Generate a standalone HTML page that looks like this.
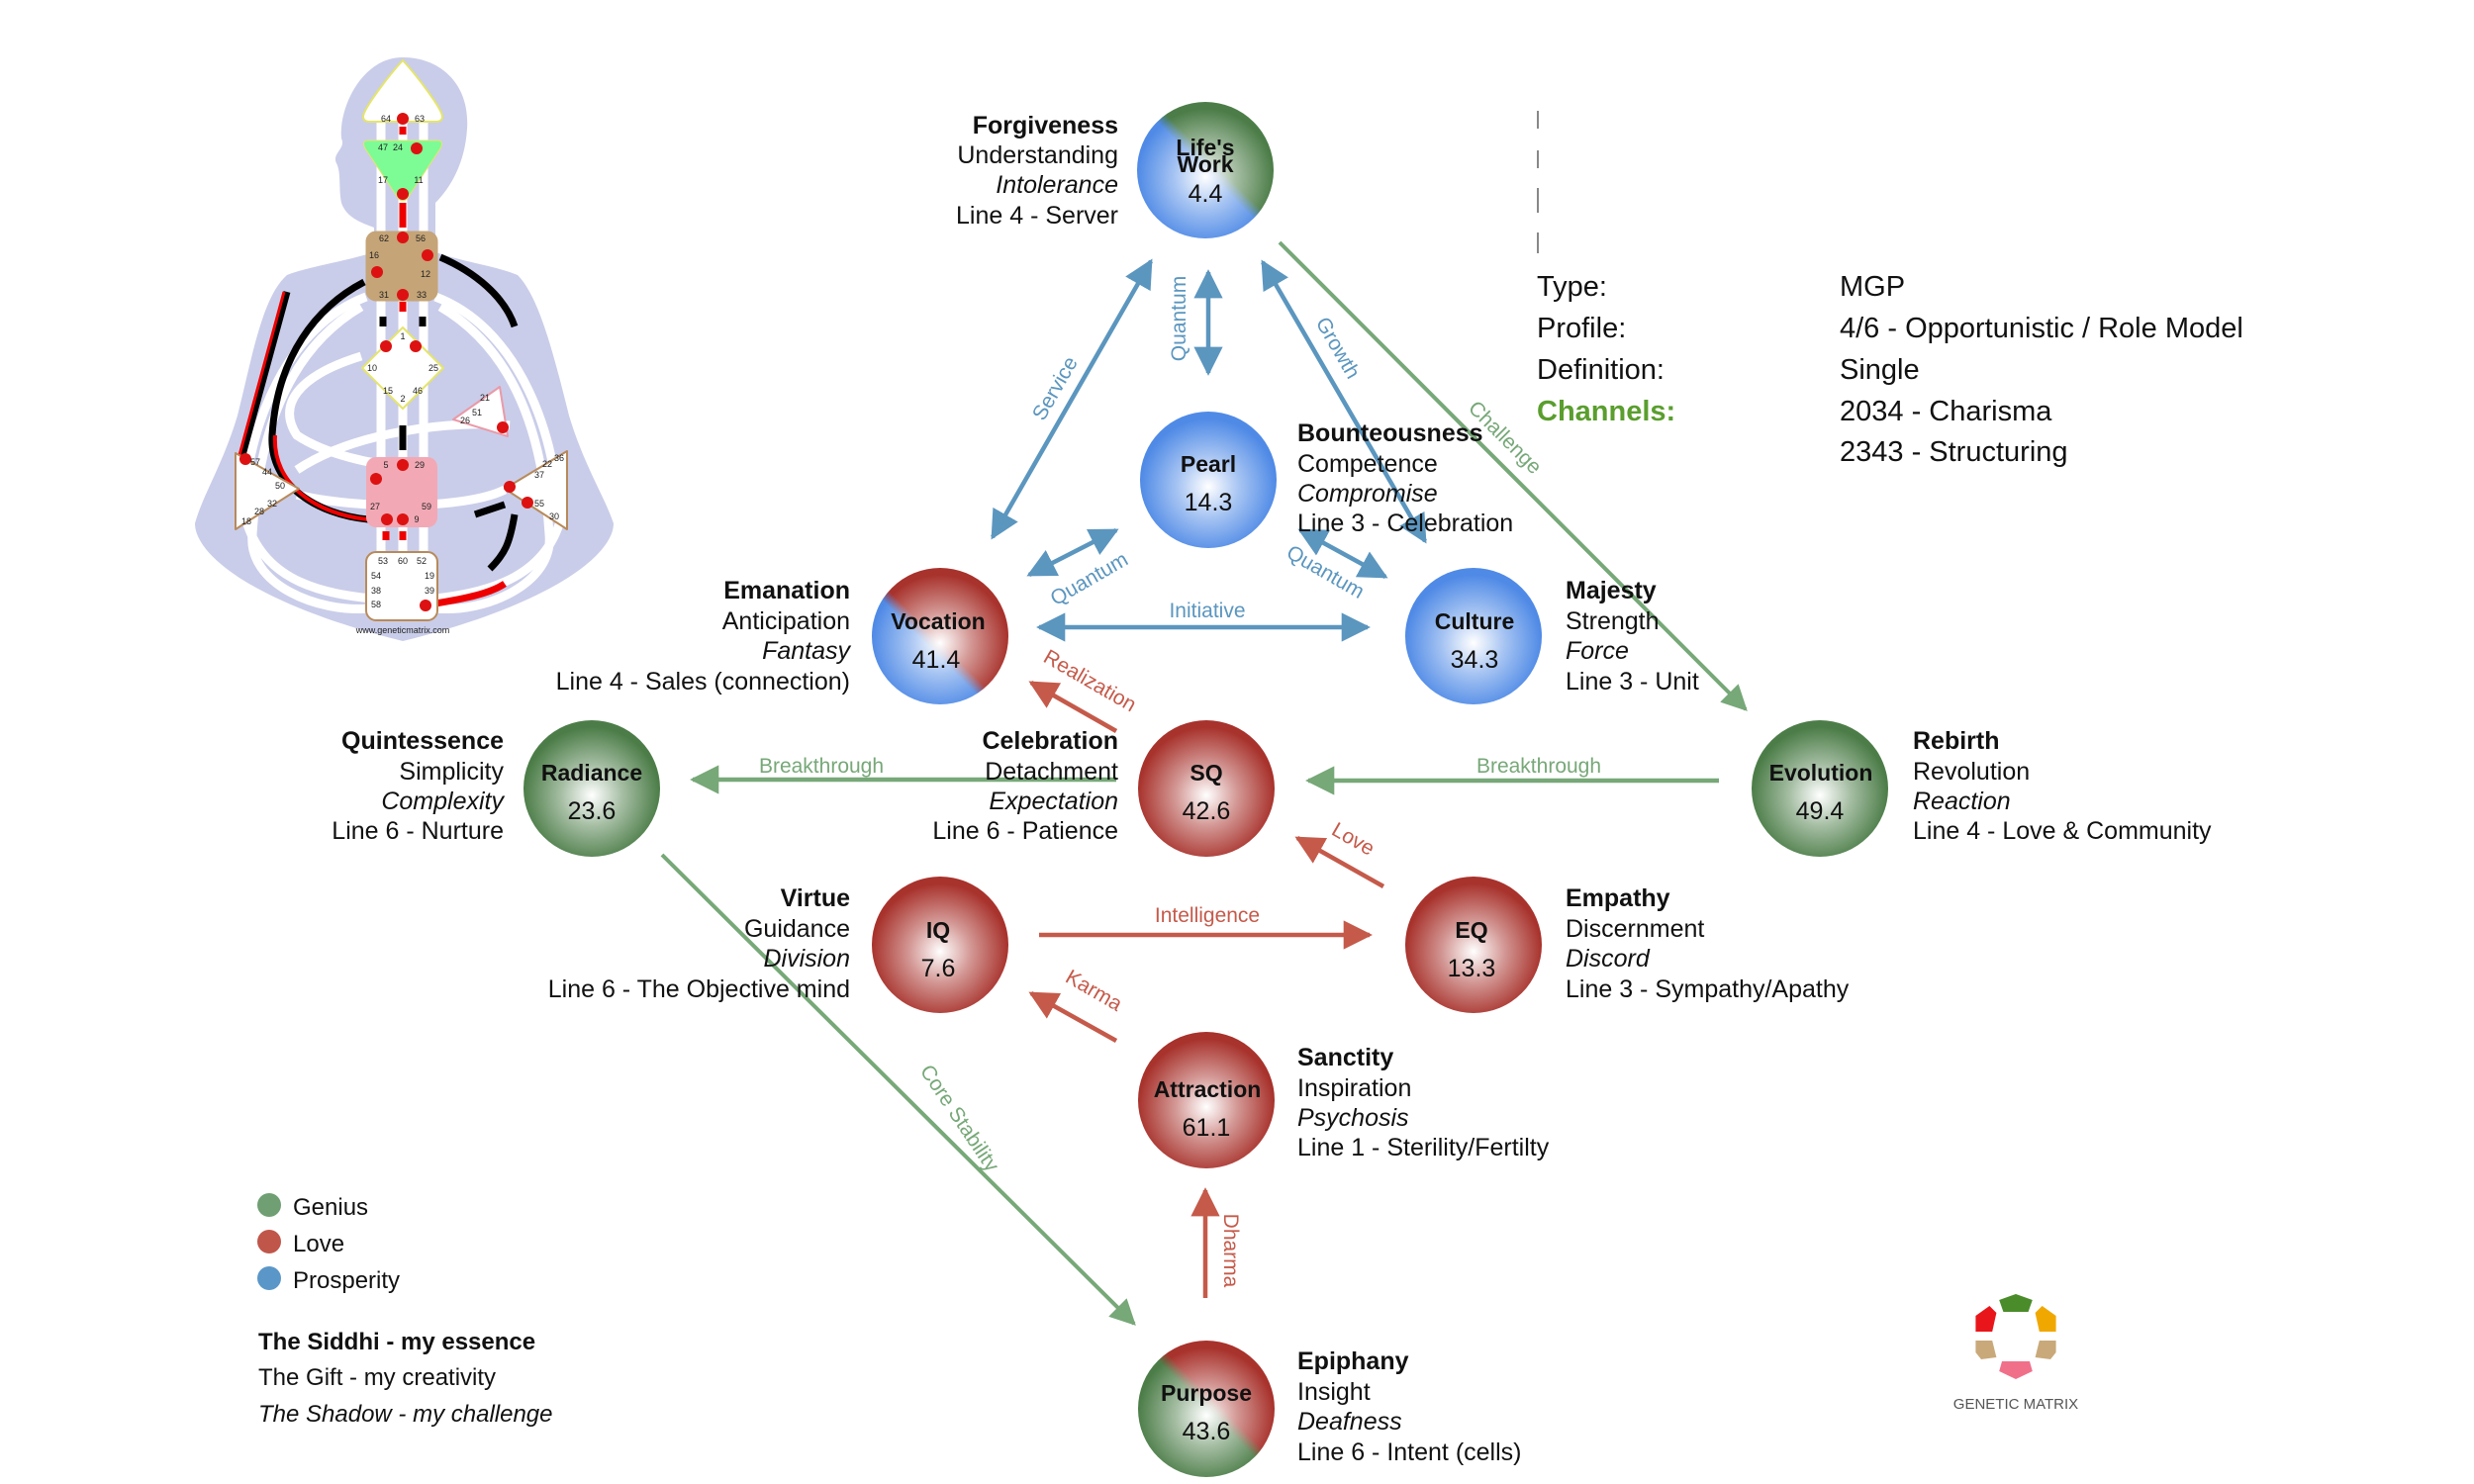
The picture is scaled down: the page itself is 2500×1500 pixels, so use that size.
<!DOCTYPE html>
<html><head><meta charset="utf-8"><style>
html,body{margin:0;padding:0;background:#fff;}
svg{display:block;font-family:"Liberation Sans",Arial,sans-serif;}
.t{font-size:25px;fill:#111;}
.b{font-weight:bold;}
.i{font-style:italic;}
.cl{font-size:23px;font-weight:bold;fill:#111;text-anchor:middle;}
.cn{font-size:25px;fill:#111;text-anchor:middle;}
.lb{font-size:21px;fill:#5b96bf;}
.lr{font-size:21px;fill:#c55a4a;}
.lg{font-size:21px;fill:#77a878;}
.info{font-size:29px;fill:#111;}
.gn{font-size:9px;fill:#222;text-anchor:middle;}
</style></head><body>
<svg width="2500" height="1500" viewBox="0 0 2500 1500" xmlns="http://www.w3.org/2000/svg">
<defs>
<radialGradient id="hl" cx="50%" cy="55%" r="50%">
<stop offset="0" stop-color="#fff" stop-opacity="1"/>
<stop offset="0.45" stop-color="#fff" stop-opacity="0.5"/>
<stop offset="1" stop-color="#fff" stop-opacity="0"/>
</radialGradient>
<linearGradient id="gLW" x1="0" y1="1" x2="1" y2="0"><stop offset="0.5" stop-color="#4f8ae6"/><stop offset="0.56" stop-color="#4c7d48"/></linearGradient>
<linearGradient id="gVO" x1="0" y1="1" x2="1" y2="0"><stop offset="0.42" stop-color="#4f8ae6"/><stop offset="0.48" stop-color="#a8322c"/></linearGradient>
<linearGradient id="gPU" x1="0" y1="1" x2="1" y2="0"><stop offset="0.5" stop-color="#4c7d48"/><stop offset="0.56" stop-color="#a8322c"/></linearGradient>
<marker id="ab" viewBox="0 0 10 10" refX="9" refY="5" markerWidth="6.5" markerHeight="6.5" orient="auto-start-reverse" markerUnits="strokeWidth"><path d="M0,0 L10,5 L0,10 z" fill="#5b96bf"/></marker>
<marker id="ar" viewBox="0 0 10 10" refX="9" refY="5" markerWidth="6.5" markerHeight="6.5" orient="auto-start-reverse" markerUnits="strokeWidth"><path d="M0,0 L10,5 L0,10 z" fill="#c55a4a"/></marker>
<marker id="ag" viewBox="0 0 10 10" refX="9" refY="5" markerWidth="6.5" markerHeight="6.5" orient="auto-start-reverse" markerUnits="strokeWidth"><path d="M0,0 L10,5 L0,10 z" fill="#77a878"/></marker>
</defs>

<!-- Bodygraph -->
<g>
<path d="M407,58 C445,58 475,85 472,130 C470,165 455,190 440,205 L440,255 C470,265 505,270 523,278 C545,300 560,360 575,420 C590,470 610,500 620,529 C620,560 560,610 407,648 C255,610 197,560 197,529 C205,500 225,470 240,420 C255,360 265,300 290,278 C310,270 345,265 378,255 L378,230 C365,225 350,220 345,205 C342,190 345,175 340,165 C335,155 350,150 345,140 C342,110 365,58 407,58 Z" fill="#c9cde9"/>
<g fill="none" stroke="#fff" stroke-width="9">
<path d="M370,300 C290,330 250,430 245,520"/>
<path d="M440,300 C520,330 560,430 565,520"/>
<path d="M365,310 C280,360 260,460 255,540 C250,590 320,620 375,615"/>
<path d="M445,310 C530,360 550,460 555,540 C560,590 490,620 440,615"/>
<path d="M365,360 C300,380 280,410 300,440 C330,460 380,470 400,470"/>
<path d="M300,475 C360,435 460,425 515,430"/>
<path d="M300,500 C360,515 470,515 510,495"/>
<path d="M250,530 C270,590 330,600 375,605"/>
<path d="M565,530 C545,590 480,600 440,605"/>
<line x1="385" y1="120" x2="385" y2="560"/>
<line x1="407" y1="120" x2="407" y2="560"/>
<line x1="428" y1="120" x2="428" y2="560"/>
</g>
<g fill="none" stroke-width="7">
<path d="M368,285 C320,310 280,360 275,440 C272,490 320,520 372,525" stroke="#000"/>
<path d="M278,440 C275,490 320,520 372,525" stroke="#e00" stroke-width="4"/>
<path d="M445,260 C480,275 510,300 520,330" stroke="#000"/>
<path d="M290,295 L245,460" stroke="#000"/>
<path d="M287,295 L242,460" stroke="#e00" stroke-width="3"/>
<path d="M480,520 L510,510" stroke="#000"/>
<path d="M520,520 C515,550 510,560 495,575" stroke="#000"/>
<path d="M440,610 C470,605 495,600 510,590" stroke="#e00"/>
<line x1="407" y1="128" x2="407" y2="136" stroke="#e00"/>
<line x1="407" y1="205" x2="407" y2="230" stroke="#e00"/>
<line x1="407" y1="305" x2="407" y2="315" stroke="#e00"/>
<line x1="387" y1="320" x2="387" y2="330" stroke="#000"/>
<line x1="427" y1="320" x2="427" y2="330" stroke="#000"/>
<line x1="407" y1="430" x2="407" y2="455" stroke="#000"/>
<line x1="390" y1="537" x2="390" y2="546" stroke="#e00"/>
<line x1="407" y1="537" x2="407" y2="546" stroke="#e00"/>
</g>
<path d="M407,61 C420,75 447,110 447,118 Q447,123 440,123 L374,123 Q367,123 367,118 C367,110 394,75 407,61 Z" fill="#fff" stroke="#e5e56a" stroke-width="2"/>
<path d="M372,142 L442,142 Q449,142 445,150 L412,200 Q407,206 402,200 L369,150 Q365,142 372,142 Z" fill="#7dfb95" stroke="#e5e56a" stroke-width="1"/>
<rect x="370" y="234" width="72" height="70" rx="10" fill="#c5a477" stroke="#c5a477"/>
<path d="M407,331 L448,372 L407,413 L366,372 Z" fill="#fff" stroke="#e5e56a" stroke-width="2" stroke-linejoin="round"/>
<path d="M458,424 L505,391 L513,441 Z" fill="#fff" stroke="#e99aa8" stroke-width="2" stroke-linejoin="round"/>
<rect x="370" y="462" width="72" height="71" rx="10" fill="#f2a9b5"/>
<path d="M238,458 L302,494 L238,535 Z" fill="#fff" stroke="#b88a5a" stroke-width="2" stroke-linejoin="round"/>
<path d="M573,456 L510,494 L573,535 Z" fill="#fff" stroke="#b88a5a" stroke-width="2" stroke-linejoin="round"/>
<rect x="370" y="558" width="72" height="69" rx="10" fill="#fff" stroke="#b88a5a" stroke-width="2"/>
<g fill="#d11">
<circle cx="407" cy="120" r="6"/><circle cx="421" cy="150" r="6"/><circle cx="407" cy="196" r="6"/>
<circle cx="407" cy="240" r="6"/><circle cx="432" cy="258" r="6"/><circle cx="381" cy="275" r="6"/><circle cx="407" cy="298" r="6"/>
<circle cx="390" cy="350" r="6"/><circle cx="420" cy="350" r="6"/><circle cx="508" cy="432" r="6"/>
<circle cx="407" cy="470" r="6"/><circle cx="380" cy="484" r="6"/><circle cx="391" cy="525" r="6"/><circle cx="407" cy="525" r="6"/>
<circle cx="248" cy="464" r="6"/><circle cx="515" cy="492" r="6"/><circle cx="533" cy="508" r="6"/><circle cx="430" cy="612" r="6"/>
</g>
<g class="gn" font-size="8">
<text x="390" y="123">64</text><text x="424" y="123">63</text>
<text x="387" y="152">47</text><text x="402" y="152">24</text>
<text x="387" y="185">17</text><text x="423" y="185">11</text>
<text x="388" y="244">62</text><text x="425" y="244">56</text>
<text x="378" y="261">16</text><text x="430" y="280">12</text>
<text x="388" y="301">31</text><text x="426" y="301">33</text>
<text x="407" y="343">1</text><text x="376" y="375">10</text><text x="438" y="375">25</text>
<text x="392" y="398">15</text><text x="422" y="398">46</text><text x="407" y="406">2</text>
<text x="482" y="420">51</text><text x="470" y="428">26</text><text x="490" y="405">21</text>
<text x="390" y="473">5</text><text x="424" y="473">29</text>
<text x="379" y="515">27</text><text x="431" y="515">59</text><text x="421" y="528">9</text>
<text x="258" y="470">57</text><text x="270" y="480">44</text><text x="283" y="494">50</text>
<text x="262" y="520">28</text><text x="275" y="512">32</text><text x="249" y="530">18</text>
<text x="553" y="472">22</text><text x="565" y="466">36</text><text x="545" y="483">37</text>
<text x="545" y="512">55</text><text x="560" y="525">30</text>
<text x="387" y="570">53</text><text x="407" y="570">60</text><text x="426" y="570">52</text>
<text x="380" y="585">54</text><text x="434" y="585">19</text>
<text x="380" y="600">38</text><text x="434" y="600">39</text><text x="380" y="614">58</text>
</g>
<text x="407" y="640" class="gn" font-size="7">www.geneticmatrix.com</text>
</g>

<!-- Connectors -->
<g stroke-width="4.5" fill="none">
<line x1="1163" y1="264" x2="1003" y2="543" stroke="#5b96bf" marker-start="url(#ab)" marker-end="url(#ab)"/>
<line x1="1221" y1="275" x2="1221" y2="377" stroke="#5b96bf" marker-start="url(#ab)" marker-end="url(#ab)"/>
<line x1="1276" y1="265" x2="1440" y2="547" stroke="#5b96bf" marker-start="url(#ab)" marker-end="url(#ab)"/>
<line x1="1040" y1="581" x2="1128" y2="536" stroke="#5b96bf" marker-start="url(#ab)" marker-end="url(#ab)"/>
<line x1="1314" y1="536" x2="1400" y2="583" stroke="#5b96bf" marker-start="url(#ab)" marker-end="url(#ab)"/>
<line x1="1050" y1="634" x2="1382" y2="634" stroke="#5b96bf" marker-start="url(#ab)" marker-end="url(#ab)"/>
<line x1="1293" y1="245" x2="1764" y2="717" stroke="#77a878" stroke-width="4" marker-end="url(#ag)"/>
<line x1="1128" y1="788" x2="700" y2="788" stroke="#77a878" marker-end="url(#ag)"/>
<line x1="1737" y1="789" x2="1322" y2="789" stroke="#77a878" marker-end="url(#ag)"/>
<line x1="669" y1="864" x2="1146" y2="1338" stroke="#77a878" stroke-width="4" marker-end="url(#ag)"/>
<line x1="1128" y1="739" x2="1042" y2="690" stroke="#c55a4a" marker-end="url(#ar)"/>
<line x1="1398" y1="896" x2="1311" y2="847" stroke="#c55a4a" marker-end="url(#ar)"/>
<line x1="1050" y1="945" x2="1384" y2="945" stroke="#c55a4a" marker-end="url(#ar)"/>
<line x1="1128" y1="1052" x2="1042" y2="1004" stroke="#c55a4a" marker-end="url(#ar)"/>
<line x1="1218" y1="1312" x2="1218" y2="1203" stroke="#c55a4a" marker-end="url(#ar)"/>
</g>

<!-- connector labels -->
<text class="lb" transform="translate(1072,396) rotate(-60)" text-anchor="middle">Service</text>
<text class="lb" transform="translate(1198,322) rotate(-90)" text-anchor="middle">Quantum</text>
<text class="lb" transform="translate(1346,355) rotate(60)" text-anchor="middle">Growth</text>
<text class="lg" transform="translate(1516,447) rotate(45)" text-anchor="middle">Challenge</text>
<text class="lb" transform="translate(1104,591) rotate(-30)" text-anchor="middle">Quantum</text>
<text class="lb" transform="translate(1336,584) rotate(30)" text-anchor="middle">Quantum</text>
<text class="lb" x="1220" y="624" text-anchor="middle">Initiative</text>
<text class="lr" transform="translate(1098,694) rotate(30)" text-anchor="middle">Realization</text>
<text class="lg" x="830" y="781" text-anchor="middle">Breakthrough</text>
<text class="lg" x="1555" y="781" text-anchor="middle">Breakthrough</text>
<text class="lr" transform="translate(1364,854) rotate(30)" text-anchor="middle">Love</text>
<text class="lr" x="1220" y="932" text-anchor="middle">Intelligence</text>
<text class="lr" transform="translate(1102,1007) rotate(30)" text-anchor="middle">Karma</text>
<text class="lg" transform="translate(964,1134) rotate(56)" text-anchor="middle">Core Stability</text>
<text class="lr" transform="translate(1237,1264) rotate(90)" text-anchor="middle">Dharma</text>

<!-- Circles -->
<g>
<circle cx="1218" cy="172" r="69" fill="url(#gLW)"/><circle cx="1218" cy="172" r="69" fill="url(#hl)"/>
<circle cx="1221" cy="485" r="69" fill="#4f8ae6"/><circle cx="1221" cy="485" r="69" fill="url(#hl)"/>
<circle cx="950" cy="643" r="69" fill="url(#gVO)"/><circle cx="950" cy="643" r="69" fill="url(#hl)"/>
<circle cx="1489" cy="643" r="69" fill="#4f8ae6"/><circle cx="1489" cy="643" r="69" fill="url(#hl)"/>
<circle cx="598" cy="797" r="69" fill="#4c7d48"/><circle cx="598" cy="797" r="69" fill="url(#hl)"/>
<circle cx="1219" cy="797" r="69" fill="#a8322c"/><circle cx="1219" cy="797" r="69" fill="url(#hl)"/>
<circle cx="1839" cy="797" r="69" fill="#4c7d48"/><circle cx="1839" cy="797" r="69" fill="url(#hl)"/>
<circle cx="950" cy="955" r="69" fill="#a8322c"/><circle cx="950" cy="955" r="69" fill="url(#hl)"/>
<circle cx="1489" cy="955" r="69" fill="#a8322c"/><circle cx="1489" cy="955" r="69" fill="url(#hl)"/>
<circle cx="1219" cy="1112" r="69" fill="#a8322c"/><circle cx="1219" cy="1112" r="69" fill="url(#hl)"/>
<circle cx="1219" cy="1424" r="69" fill="url(#gPU)"/><circle cx="1219" cy="1424" r="69" fill="url(#hl)"/>
</g>
<text class="cl" x="1218" y="157" font-size="22">Life's</text>
<text class="cl" x="1218" y="174" font-size="22">Work</text>
<text class="cn" x="1218" y="204">4.4</text>
<text class="cl" x="1221" y="477">Pearl</text><text class="cn" x="1221" y="516">14.3</text>
<text class="cl" x="948" y="636">Vocation</text><text class="cn" x="946" y="675">41.4</text>
<text class="cl" x="1490" y="636">Culture</text><text class="cn" x="1490" y="675">34.3</text>
<text class="cl" x="598" y="789">Radiance</text><text class="cn" x="598" y="828">23.6</text>
<text class="cl" x="1219" y="789">SQ</text><text class="cn" x="1219" y="828">42.6</text>
<text class="cl" x="1840" y="789">Evolution</text><text class="cn" x="1839" y="828">49.4</text>
<text class="cl" x="948" y="948">IQ</text><text class="cn" x="948" y="987">7.6</text>
<text class="cl" x="1487" y="948">EQ</text><text class="cn" x="1487" y="987">13.3</text>
<text class="cl" x="1220" y="1109">Attraction</text><text class="cn" x="1219" y="1148">61.1</text>
<text class="cl" x="1219" y="1416">Purpose</text><text class="cn" x="1219" y="1455">43.6</text>

<!-- Text blocks -->
<g class="t" text-anchor="end">
<text x="1130" y="135" class="t b">Forgiveness</text>
<text x="1130" y="165">Understanding</text>
<text x="1130" y="195" class="t i">Intolerance</text>
<text x="1130" y="226">Line 4 - Server</text>
<text x="859" y="605" class="t b">Emanation</text>
<text x="859" y="636">Anticipation</text>
<text x="859" y="666" class="t i">Fantasy</text>
<text x="859" y="697">Line 4 - Sales (connection)</text>
<text x="509" y="757" class="t b">Quintessence</text>
<text x="509" y="788">Simplicity</text>
<text x="509" y="818" class="t i">Complexity</text>
<text x="509" y="848">Line 6 - Nurture</text>
<text x="1130" y="757" class="t b">Celebration</text>
<text x="1130" y="788">Detachment</text>
<text x="1130" y="818" class="t i">Expectation</text>
<text x="1130" y="848">Line 6 - Patience</text>
<text x="859" y="916" class="t b">Virtue</text>
<text x="859" y="947">Guidance</text>
<text x="859" y="977" class="t i">Division</text>
<text x="859" y="1008">Line 6 - The Objective mind</text>
</g>
<g class="t">
<text x="1311" y="446" class="t b">Bounteousness</text>
<text x="1311" y="477">Competence</text>
<text x="1311" y="507" class="t i">Compromise</text>
<text x="1311" y="537">Line 3 - Celebration</text>
<text x="1582" y="605" class="t b">Majesty</text>
<text x="1582" y="636">Strength</text>
<text x="1582" y="666" class="t i">Force</text>
<text x="1582" y="697">Line 3 - Unit</text>
<text x="1933" y="757" class="t b">Rebirth</text>
<text x="1933" y="788">Revolution</text>
<text x="1933" y="818" class="t i">Reaction</text>
<text x="1933" y="848">Line 4 - Love &amp; Community</text>
<text x="1582" y="916" class="t b">Empathy</text>
<text x="1582" y="947">Discernment</text>
<text x="1582" y="977" class="t i">Discord</text>
<text x="1582" y="1008">Line 3 - Sympathy/Apathy</text>
<text x="1311" y="1077" class="t b">Sanctity</text>
<text x="1311" y="1108">Inspiration</text>
<text x="1311" y="1138" class="t i">Psychosis</text>
<text x="1311" y="1168">Line 1 - Sterility/Fertilty</text>
<text x="1311" y="1384" class="t b">Epiphany</text>
<text x="1311" y="1415">Insight</text>
<text x="1311" y="1445" class="t i">Deafness</text>
<text x="1311" y="1476">Line 6 - Intent (cells)</text>
</g>

<!-- Info -->
<g stroke="#888" stroke-width="2">
<line x1="1554" y1="112" x2="1554" y2="130"/><line x1="1554" y1="152" x2="1554" y2="170"/>
<line x1="1554" y1="190" x2="1554" y2="215"/><line x1="1554" y1="235" x2="1554" y2="256"/>
</g>
<g class="info">
<text x="1553" y="299">Type:</text><text x="1859" y="299">MGP</text>
<text x="1553" y="341">Profile:</text><text x="1859" y="341">4/6 - Opportunistic / Role Model</text>
<text x="1553" y="383">Definition:</text><text x="1859" y="383">Single</text>
<text x="1553" y="425" fill="#5a9e2e" font-weight="bold">Channels:</text><text x="1859" y="425">2034 - Charisma</text>
<text x="1859" y="466">2343 - Structuring</text>
</g>

<!-- Legend -->
<circle cx="272" cy="1218" r="12" fill="#6f9f73"/>
<circle cx="272" cy="1255" r="12" fill="#c0564a"/>
<circle cx="272" cy="1292" r="12" fill="#5b96c8"/>
<g class="t" font-size="24">
<text x="296" y="1228" font-size="24">Genius</text>
<text x="296" y="1265" font-size="24">Love</text>
<text x="296" y="1302" font-size="24">Prosperity</text>
<text x="261" y="1364" font-size="24" font-weight="bold">The Siddhi - my essence</text>
<text x="261" y="1400" font-size="24">The Gift - my creativity</text>
<text x="261" y="1437" font-size="24" font-style="italic">The Shadow - my challenge</text>
</g>

<!-- Logo -->
<g transform="translate(2037,1350) scale(1.4,1) translate(-2037,-1350)">
<path d="M2037,1308 L2049,1314 L2046,1326 L2028,1326 L2025,1314 Z" fill="#4a8c2a"/>
<path d="M2056,1320 L2066,1330 L2066,1346 L2054,1346 L2051,1327 Z" fill="#f0a800"/>
<path d="M2018,1320 L2008,1330 L2008,1346 L2020,1346 L2023,1327 Z" fill="#e8161a"/>
<path d="M2008,1355 L2020,1355 L2023,1372 L2012,1374 L2008,1367 Z" fill="#c9a97a"/>
<path d="M2066,1355 L2054,1355 L2051,1372 L2062,1374 L2066,1367 Z" fill="#c9a97a"/>
<path d="M2027,1376 L2047,1376 L2049,1386 L2037,1394 L2025,1386 Z" fill="#f0708a"/>
</g>
<text x="2037" y="1424" text-anchor="middle" font-size="15" fill="#555">GENETIC MATRIX</text>
</svg>
</body></html>
